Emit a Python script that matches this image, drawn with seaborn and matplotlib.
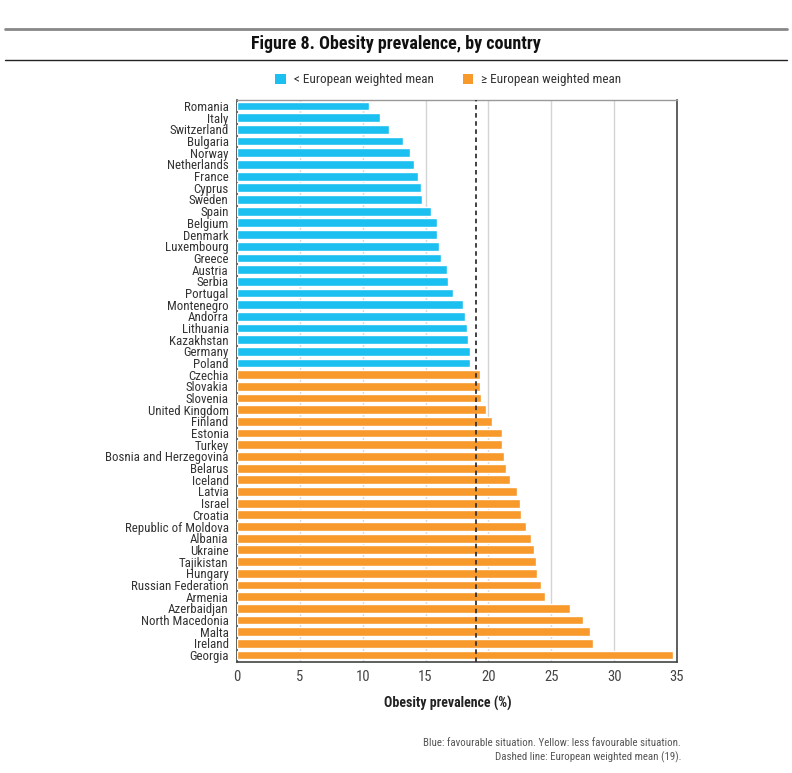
import pandas as pd
import seaborn as sns
import matplotlib.pyplot as plt
from matplotlib.lines import Line2D
from matplotlib.patches import Patch

countries = ["Romania", "Italy", "Switzerland", "Bulgaria", "Norway", "Netherlands", "France",
             "Cyprus", "Sweden", "Spain", "Belgium", "Denmark", "Luxembourg", "Greece", "Austria",
             "Serbia", "Portugal", "Montenegro", "Andorra", "Lithuania", "Kazakhstan", "Germany",
             "Poland", "Czechia", "Slovakia", "Slovenia", "United Kingdom", "Finland", "Estonia",
             "Turkey", "Bosnia and Herzegovina", "Belarus", "Iceland", "Latvia", "Israel", "Croatia",
             "Republic of Moldova", "Albania", "Ukraine", "Tajikistan", "Hungary",
             "Russian Federation", "Armenia", "Azerbaidjan", "North Macedonia", "Malta", "Ireland",
             "Georgia"]
prevalence = [10.5, 11.4, 12.1, 13.2, 13.8, 14.1, 14.4, 14.6, 14.7, 15.4, 15.9, 15.9, 16.1, 16.2,
              16.7, 16.8, 17.2, 18.0, 18.1, 18.3, 18.4, 18.5, 18.5, 19.3, 19.3, 19.4, 19.8, 20.3,
              21.1, 21.1, 21.2, 21.4, 21.7, 22.3, 22.5, 22.6, 23.0, 23.4, 23.6, 23.8, 23.9, 24.2,
              24.5, 26.5, 27.5, 28.1, 28.3, 34.7]
mean_value = 19
group_labels = ["< European weighted mean", "\u2265 European weighted mean"]
x_ticks = [0, 5, 10, 15, 20, 25, 30, 35]

blue = "#1bbff0"
orange = "#f7992b"
fonts = ["Roboto Condensed", "Roboto", "DejaVu Sans"]

df = pd.DataFrame({"country": countries, "prevalence": prevalence})
df["group"] = [group_labels[0] if v < mean_value else group_labels[1] for v in df["prevalence"]]

sns.set_style("white")
plt.rcParams["font.family"] = fonts

fig = plt.figure(figsize=(7.92, 7.73), dpi=100)
ax = fig.add_axes([0.2992, 0.1436, 0.5556, 0.7275])

sns.barplot(data=df, x="prevalence", y="country", hue="group",
            palette={group_labels[0]: blue, group_labels[1]: orange},
            dodge=False, width=0.75, saturation=1, legend=False, ax=ax, zorder=3)

ax.set_xlim(0, 35)
ax.set_ylim(47.6, -0.55)
ax.set_xticks(x_ticks)
ax.xaxis.grid(True, color="#d4d4d4", linewidth=1, zorder=0)
ax.set_axisbelow(True)
ax.axvline(mean_value, color="#333333", linestyle=(0, (2.5, 2)), linewidth=1.3, zorder=4)

ax.set_ylabel("")
ax.set_xlabel("")
ax.tick_params(axis="y", length=0, pad=6, labelsize=9.3, colors="#333333")
ax.tick_params(axis="x", length=0, pad=6, labelsize=10.5, colors="#444444")

for side in ["left", "bottom", "right"]:
    ax.spines[side].set_color("#444444")
    ax.spines[side].set_linewidth(1.2)
ax.spines["top"].set_color("#999999")
ax.spines["top"].set_linewidth(1)

fig.text(448 / 792, 1 - 703 / 773, "Obesity prevalence (%)", ha="center", va="center",
         fontsize=10, fontweight="bold", color="#222222")

# title with rules above and below
fig.add_artist(Line2D([0.006, 0.994], [1 - 29 / 773, 1 - 29 / 773], color="#888888", linewidth=2))
fig.add_artist(Line2D([0.006, 0.994], [1 - 60 / 773, 1 - 60 / 773], color="#222222", linewidth=1))
fig.text(0.5, 1 - 44 / 773, "Figure 8. Obesity prevalence, by country", ha="center", va="center",
         fontsize=13, fontweight="bold", color="#111111")

handles = [Patch(facecolor=blue, edgecolor="none"), Patch(facecolor=orange, edgecolor="none")]
fig.legend(handles, group_labels, loc="center", bbox_to_anchor=(0.566, 1 - 80 / 773), ncol=2,
           frameon=False, fontsize=9.5, handlelength=0.8, handleheight=0.8, handletextpad=0.6,
           columnspacing=2.2, labelcolor="#333333")

fig.text(0.86, 1 - 743 / 773, "Blue: favourable situation. Yellow: less favourable situation.",
         ha="right", va="center", fontsize=7.8, color="#555555")
fig.text(0.86, 1 - 757 / 773, "Dashed line: European weighted mean (19).",
         ha="right", va="center", fontsize=7.8, color="#555555")

fig.savefig("out.png", dpi=100)
